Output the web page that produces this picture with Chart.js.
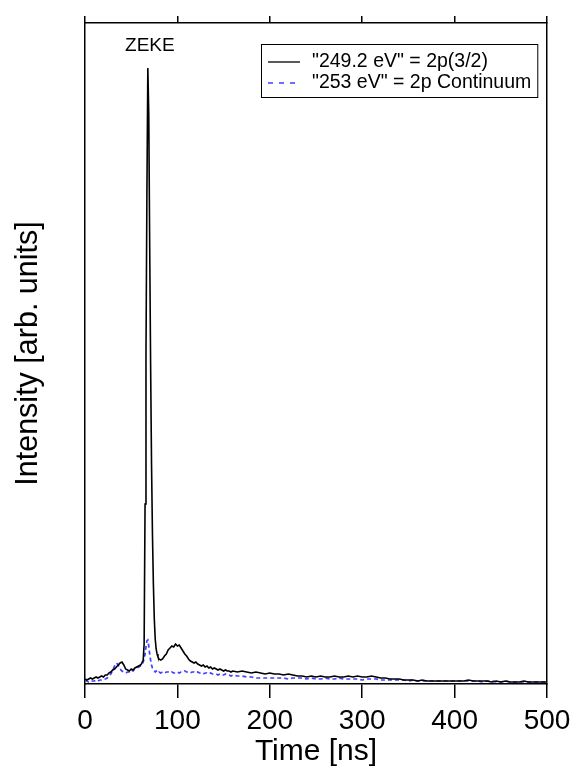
<!DOCTYPE html>
<html>
<head>
<meta charset="utf-8">
<script src="https://cdn.jsdelivr.net/npm/chart.js@4"></script>
<style>
  html, body { margin: 0; padding: 0; background: #fff; }
  #wrap { width: 572px; height: 776px; }
</style>
</head>
<body>
<div id="wrap"><canvas id="tof"></canvas></div>
<script>
// time axis (ns) - finer sampling around the ZEKE peak
const timeNs = [
  0, 2, 4, 6, 8, 10, 12, 14, 16, 18, 20, 22, 24, 26, 28, 30, 32, 34, 36, 38,
  40, 42, 44, 46, 48, 50, 52, 54, 56, 58, 60,
  61, 62, 63, 64, 65, 66, 67, 68, 69, 70, 71, 72, 73, 74, 75, 76, 77, 78, 79, 80,
  82, 84, 86, 88, 90, 92, 94, 96, 98, 100, 102, 104, 106, 108, 110, 112, 114, 116, 118, 120,
  122, 124, 126, 128, 130, 132, 134, 136, 138, 140, 142, 144, 146, 148, 150, 152, 154, 156, 158, 160,
  165, 170, 175, 180, 185, 190, 195, 200, 205, 210, 215, 220, 225, 230, 235, 240, 245, 250,
  255, 260, 265, 270, 275, 280, 285, 290, 295, 300, 305, 310, 315, 320, 325, 330, 335, 340,
  345, 350, 355, 360, 365, 370, 375, 380, 385, 390, 395, 400, 405, 410, 415, 420, 425, 430,
  435, 440, 445, 450, 455, 460, 465, 470, 475, 480, 485, 490, 495, 500
];

// "249.2 eV" = 2p(3/2)
const signal2p32 = [
  5, 4, 5, 6, 5, 6, 7, 6, 7, 8, 7, 9, 9, 11, 12, 14, 15, 17, 19, 21,
  22, 19, 15, 14, 13, 15, 14, 16, 17, 18, 19,
  20, 22, 24, 40, 180, 330, 490, 616, 570, 440, 320, 220, 150, 100, 65, 45, 35, 30, 27, 25,
  24, 25, 28, 30, 34, 36, 38, 37, 40, 38, 39, 36, 33, 30, 28, 25, 23, 22, 21, 22,
  20, 19, 18, 19, 17, 18, 16, 17, 15, 16, 15, 14, 15, 14, 13, 14, 13, 13, 12, 13,
  12, 13, 12, 11, 12, 11, 10, 11, 10, 10, 9, 10, 9, 8, 8, 7, 8, 7,
  8, 7, 7, 8, 7, 7, 8, 7, 8, 7, 7, 8, 7, 6, 6, 5, 5, 5,
  4, 4, 4, 3, 4, 3, 3, 3, 3, 3, 3, 3, 3, 3, 4, 3, 3, 3,
  3, 2, 3, 2, 3, 2, 2, 2, 3, 2, 2, 2, 2, 2
];

// "253 eV" = 2p Continuum
const signalContinuum = [
  3, 3, 2, 3, 3, 3, 4, 3, 4, 4, 5, 5, 6, 8, 10, 14, 18, 21, 19, 15,
  13, 12, 11, 12, 12, 14, 13, 15, 16, 17, 18,
  19, 20, 22, 25, 30, 37, 43, 44, 38, 30, 24, 19, 16, 14, 13, 12, 13, 12, 11, 12,
  11, 12, 11, 12, 12, 11, 12, 11, 11, 12, 11, 12, 12, 13, 12, 12, 11, 12, 12, 11,
  12, 11, 11, 10, 11, 11, 10, 11, 10, 10, 10, 9, 10, 9, 9, 10, 9, 9, 8, 9,
  8, 8, 7, 7, 6, 6, 6, 6, 6, 6, 6, 5, 6, 6, 6, 5, 6, 5,
  5, 6, 5, 5, 6, 5, 5, 5, 5, 4, 5, 5, 5, 4, 4, 4, 4, 4,
  4, 3, 4, 3, 3, 3, 3, 3, 3, 3, 3, 3, 3, 3, 3, 3, 3, 2,
  3, 3, 2, 2, 3, 2, 2, 2, 2, 2, 2, 2, 2, 2
];

const xTicks = [0, 100, 200, 300, 400, 500];
const seriesLabels = ['"249.2 eV" = 2p(3/2)', '"253 eV" = 2p Continuum'];
const peakLabel = 'ZEKE';

const FONT = '"Liberation Sans", Arial, Helvetica, sans-serif';
Chart.defaults.font.family = FONT;
Chart.defaults.color = '#000';

const toPoints = (vals) => vals.map((v, i) => ({ x: timeNs[i], y: v }));

// ZEKE label + boxed legend inside the plot, top right
const plotExtras = {
  id: 'plotExtras',
  afterDatasetsDraw(chart) {
    const { ctx, chartArea, scales } = chart;
    ctx.save();

    const iPeak = signal2p32.indexOf(Math.max(...signal2p32));
    ctx.font = '19px ' + FONT;
    ctx.fillStyle = '#000';
    ctx.textAlign = 'center';
    ctx.textBaseline = 'middle';
    ctx.fillText(peakLabel, scales.x.getPixelForValue(timeNs[iPeak]) + 2, chartArea.top + 23);

    ctx.font = '19.5px ' + FONT;
    ctx.textAlign = 'left';
    const sets = chart.data.datasets;
    const textW = Math.max(...sets.map(ds => ctx.measureText(ds.label).width));
    const boxW = 7 + 32 + 12 + textW + 6;
    const boxH = 53;
    const right = chartArea.right - 10;
    const left = Math.round(right - boxW);
    const top = chartArea.top + 21;

    ctx.lineWidth = 1;
    ctx.strokeStyle = '#000';
    ctx.setLineDash([]);
    ctx.strokeRect(left + 0.5, top + 0.5, boxW, boxH);

    sets.forEach((ds, i) => {
      const cy = top + 18 + i * 21;
      ctx.beginPath();
      ctx.setLineDash(ds.borderDash && ds.borderDash.length ? [5, 6] : []);
      ctx.strokeStyle = ds.borderColor;
      ctx.lineWidth = 1.3;
      ctx.moveTo(left + 7, cy);
      ctx.lineTo(left + 39, cy);
      ctx.stroke();
      ctx.fillText(ds.label, left + 51, cy);
    });
    ctx.restore();
  }
};

const axisLine = { color: '#000', width: 1.5 };

new Chart(document.getElementById('tof'), {
  type: 'line',
  data: {
    datasets: [
      {
        label: seriesLabels[0],
        data: toPoints(signal2p32),
        borderColor: '#000000',
        borderWidth: 1.6,
        pointRadius: 0,
        tension: 0,
        fill: false,
      },
      {
        label: seriesLabels[1],
        data: toPoints(signalContinuum),
        borderColor: '#4040ff',
        borderWidth: 1.7,
        borderDash: [4, 3],
        pointRadius: 0,
        tension: 0,
        fill: false,
      },
    ],
  },
  options: {
    responsive: true,
    maintainAspectRatio: false,
    animation: false,
    devicePixelRatio: 1,
    layout: { padding: 0 },
    plugins: {
      legend: { display: false },
      tooltip: { enabled: false },
    },
    scales: {
      x: {
        type: 'linear',
        position: 'bottom',
        min: 0,
        max: 500,
        afterBuildTicks: (s) => { s.ticks = xTicks.map(v => ({ value: v })); },
        ticks: { font: { size: 28 }, padding: 6, color: '#000', maxRotation: 0 },
        grid: { drawOnChartArea: false, drawTicks: true, tickLength: 14, color: '#000', lineWidth: 1.5 },
        border: axisLine,
        title: { display: true, text: 'Time [ns]', font: { size: 30 }, padding: { top: 0, bottom: 6 } },
        afterFit: (s) => { s.height = 92; s.paddingLeft = 0; s.paddingRight = 0; },
      },
      xTop: {
        type: 'linear',
        position: 'top',
        min: 0,
        max: 500,
        afterBuildTicks: (s) => { s.ticks = xTicks.map(v => ({ value: v })); },
        ticks: { display: false },
        grid: { drawOnChartArea: false, drawTicks: true, tickLength: 7, color: '#000', lineWidth: 1.5 },
        border: axisLine,
        afterFit: (s) => { s.height = 23; s.paddingLeft = 0; s.paddingRight = 0; },
      },
      y: {
        type: 'linear',
        position: 'left',
        min: 0,
        max: 661,
        ticks: { display: false },
        grid: { display: false },
        border: axisLine,
        title: { display: true, text: 'Intensity [arb. units]', font: { size: 30.5 }, padding: { top: 10, bottom: 0 } },
        afterFit: (s) => { s.width = 85; },
      },
      yRight: {
        type: 'linear',
        position: 'right',
        min: 0,
        max: 661,
        ticks: { display: false },
        grid: { display: false },
        border: axisLine,
        afterFit: (s) => { s.width = 25; },
      },
    },
  },
  plugins: [plotExtras],
});
</script>
</body>
</html>
